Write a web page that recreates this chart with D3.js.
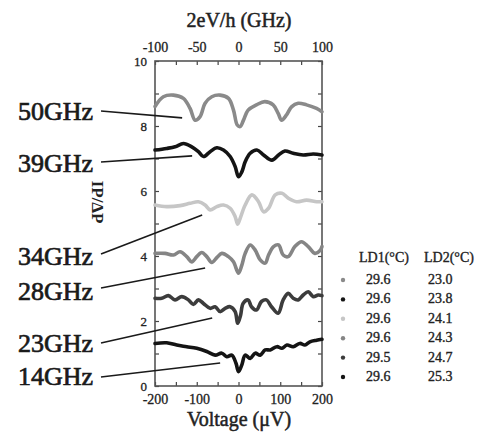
<!DOCTYPE html>
<html>
<head>
<meta charset="utf-8">
<script src="https://cdn.jsdelivr.net/npm/d3@7"></script>
<style>
  body { margin: 0; background: #fff; }
  svg text { font-family: "Liberation Serif", "Times New Roman", "DejaVu Serif", serif !important; }
</style>
</head>
<body>
<div id="chart"></div>
<script>
// ---- data (voltage in uV, signal in arb. units) ----
var seriesNames = ["50GHz", "39GHz", "34GHz", "28GHz", "23GHz", "14GHz"];
var seriesColors = ["#8a8a8a", "#141414", "#c6c6c6", "#858585", "#3c3c3c", "#141414"];

var v50 = [-200,-180,-156,-132,-116,-104,-92,-80,-64,-44,-24,-12,-3,4,12,23,43,63,83,95,103,115,127,143,163,187,200];
var y50 = [8.60,8.90,8.95,8.85,8.54,8.18,8.29,8.70,8.90,8.95,8.85,8.49,8.03,7.98,8.18,8.49,8.65,8.75,8.65,8.39,8.18,8.34,8.59,8.70,8.65,8.54,8.44];

var v39 = [-200,-172,-152,-132,-112,-96,-84,-68,-52,-36,-20,-8,0,8,16,28,44,60,80,96,111,131,155,179,200];
var y39 = [7.26,7.31,7.36,7.46,7.36,7.21,7.06,7.21,7.33,7.26,7.06,6.75,6.44,6.59,6.90,7.16,7.26,7.11,6.95,7.11,7.23,7.16,7.11,7.14,7.11];

var v34 = [-200,-172,-140,-116,-96,-80,-68,-52,-36,-20,-8,-2,4,16,32,48,60,72,88,104,119,139,163,187,200];
var y34 = [5.57,5.52,5.55,5.62,5.67,5.57,5.42,5.52,5.57,5.47,5.21,4.98,5.16,5.57,5.88,5.67,5.36,5.47,5.88,5.93,5.78,5.67,5.72,5.67,5.67];

var v28 = [-200,-176,-156,-140,-124,-112,-100,-88,-76,-64,-52,-40,-24,-12,0,8,16,28,40,52,64,72,84,96,107,119,135,151,167,183,196,200];
var y28 = [4.08,4.08,4.03,4.13,3.98,3.82,3.98,4.11,3.98,3.80,3.95,4.08,3.98,3.82,3.47,3.72,4.08,4.34,4.18,3.88,3.78,4.03,4.29,4.34,4.03,3.98,4.29,4.44,4.29,4.08,4.18,4.29];

var v23 = [-200,-184,-168,-152,-136,-120,-108,-96,-84,-68,-56,-44,-32,-20,-8,-2,5,11,23,31,43,55,67,79,95,107,119,131,143,155,167,179,191,200];
var y23 = [2.70,2.70,2.78,2.65,2.75,2.65,2.51,2.65,2.54,2.39,2.44,2.29,2.39,2.44,2.29,1.93,2.18,2.54,2.65,2.44,2.34,2.60,2.65,2.44,2.24,2.65,2.85,2.70,2.65,2.80,2.90,2.75,2.80,2.78];

var v14 = [-200,-172,-148,-124,-100,-76,-56,-40,-28,-16,-6,0,8,16,28,40,52,64,76,92,104,116,131,147,159,171,187,200];
var y14 = [1.31,1.33,1.26,1.21,1.16,1.06,0.95,1.01,0.90,0.95,0.70,0.44,0.65,0.95,0.85,1.01,0.95,1.11,1.11,1.21,1.16,1.26,1.21,1.31,1.26,1.36,1.41,1.44];

// where each leader line ends (data coords)
var arrowV = [-135, -111, -87, -80, -63, -44];
var arrowY = [8.25, 7.08, 5.26, 3.63, 2.09, 0.71];

var ld1 = ["29.6", "29.6", "29.6", "29.6", "29.5", "29.6"];
var ld2 = ["23.0", "23.8", "24.1", "24.3", "24.7", "25.3"];

var allV = [v50, v39, v34, v28, v23, v14];
var allY = [y50, y39, y34, y28, y23, y14];

var SERIF = "'Liberation Serif', 'Times New Roman', 'DejaVu Serif', serif";

function drawChart() {
  var width = 487, height = 432;
  var pLeft = 155, pRight = 322, pTop = 61, pBottom = 386;

  var svg = d3.select("#chart").append("svg")
    .attr("width", width).attr("height", height)
    .attr("font-family", SERIF);

  var x = d3.scaleLinear().domain([-200, 200]).range([pLeft, pRight]);
  var xTop = d3.scaleLinear().domain([-100, 100]).range([pLeft, pRight]);
  var y = d3.scaleLinear().domain([0, 10]).range([pBottom, pTop]);

  // scanned look: text a little heavier than plain regular
  function heavy(sel, w) {
    sel.attr("stroke", "#222").attr("stroke-width", w).attr("paint-order", "stroke");
  }

  function styleAxis(g, fs) {
    g.attr("font-family", SERIF);
    g.select(".domain").remove();
    g.selectAll("line").attr("stroke", "#444").attr("stroke-width", 1.2);
    g.selectAll("text").attr("font-size", fs).attr("fill", "#222").call(heavy, 0.3);
  }

  // bottom axis: ticks every 50, labels every 100
  svg.append("g").attr("transform", "translate(0," + pBottom + ")")
    .call(d3.axisBottom(x).tickValues(d3.range(-200, 201, 50)).tickSizeInner(-4).tickSizeOuter(0).tickPadding(8)
      .tickFormat(function(d){ return d % 100 === 0 ? d : ""; }))
    .call(styleAxis, 14);

  // top axis: ticks every 25, labels every 50
  svg.append("g").attr("transform", "translate(0," + pTop + ")")
    .call(d3.axisTop(xTop).tickValues(d3.range(-100, 101, 25)).tickSizeInner(-4).tickSizeOuter(0).tickPadding(9)
      .tickFormat(function(d){ return d % 50 === 0 ? d : ""; }))
    .call(styleAxis, 14);

  // left axis: ticks every 1, labels every 2
  svg.append("g").attr("transform", "translate(" + pLeft + ",0)")
    .call(d3.axisLeft(y).tickValues(d3.range(0, 11, 1)).tickSizeInner(-4).tickSizeOuter(0).tickPadding(8)
      .tickFormat(function(d){ return d % 2 === 0 ? d : ""; }))
    .call(styleAxis, 13);

  // right axis: ticks only
  svg.append("g").attr("transform", "translate(" + pRight + ",0)")
    .call(d3.axisRight(y).tickValues(d3.range(0, 11, 1)).tickSizeInner(-4).tickSizeOuter(0).tickFormat(""))
    .call(styleAxis, 13);

  // frame
  svg.append("rect")
    .attr("x", pLeft).attr("y", pTop)
    .attr("width", pRight - pLeft).attr("height", pBottom - pTop)
    .attr("fill", "none").attr("stroke", "#555").attr("stroke-width", 1.6);

  // curves
  var line = d3.line()
    .x(function(d){ return x(d[0]); })
    .y(function(d){ return y(d[1]); })
    .curve(d3.curveCatmullRom.alpha(0.5));

  seriesNames.forEach(function(name, i){
    var pts = allV[i].map(function(v, j){ return [v, allY[i][j]]; });
    svg.append("path")
      .datum(pts)
      .attr("d", line)
      .attr("fill", "none")
      .attr("stroke", seriesColors[i])
      .attr("stroke-width", 3.6)
      .attr("stroke-linejoin", "round")
      .attr("stroke-linecap", "round");
  });

  // frequency labels with leader lines
  var labelBase = [120, 172, 265, 300, 352, 385];
  var lineStartY = [111, 162, 254, 288, 343, 377];
  seriesNames.forEach(function(name, i){
    svg.append("text")
      .attr("x", 93).attr("y", labelBase[i])
      .attr("text-anchor", "end")
      .attr("font-size", 26)
      .attr("fill", "#1a1a1a")
      .call(heavy, 0.7)
      .text(name);
    svg.append("line")
      .attr("x1", 101).attr("y1", lineStartY[i])
      .attr("x2", x(arrowV[i])).attr("y2", y(arrowY[i]))
      .attr("stroke", "#1a1a1a").attr("stroke-width", 1.6);
  });

  // axis titles
  svg.append("text")
    .attr("x", 239).attr("y", 27)
    .attr("text-anchor", "middle").attr("font-size", 20).attr("fill", "#222")
    .call(heavy, 0.5)
    .text("2eV/h (GHz)");

  svg.append("text")
    .attr("x", 239).attr("y", 426)
    .attr("text-anchor", "middle").attr("font-size", 20).attr("fill", "#222")
    .call(heavy, 0.5)
    .text("Voltage (\u03bcV)");

  svg.append("text")
    .attr("transform", "translate(92,202) rotate(90)")
    .attr("text-anchor", "middle").attr("font-size", 17).attr("font-weight", "bold").attr("fill", "#222")
    .text("IP/\u0394P");

  // legend table
  var lg = svg.append("g").attr("font-size", 14).attr("fill", "#222");
  lg.append("text").attr("x", 359).attr("y", 262).call(heavy, 0.35).text("LD1(\u00b0C)");
  lg.append("text").attr("x", 424).attr("y", 262).call(heavy, 0.35).text("LD2(\u00b0C)");
  ld1.forEach(function(v, i){
    var yy = 284 + i * 19.4;
    lg.append("circle").attr("cx", 343).attr("cy", yy - 4).attr("r", 2.2).attr("fill", seriesColors[i]);
    lg.append("text").attr("x", 366).attr("y", yy).call(heavy, 0.35).text(v);
    lg.append("text").attr("x", 428).attr("y", yy).call(heavy, 0.35).text(ld2[i]);
  });
}

drawChart();
</script>
</body>
</html>
